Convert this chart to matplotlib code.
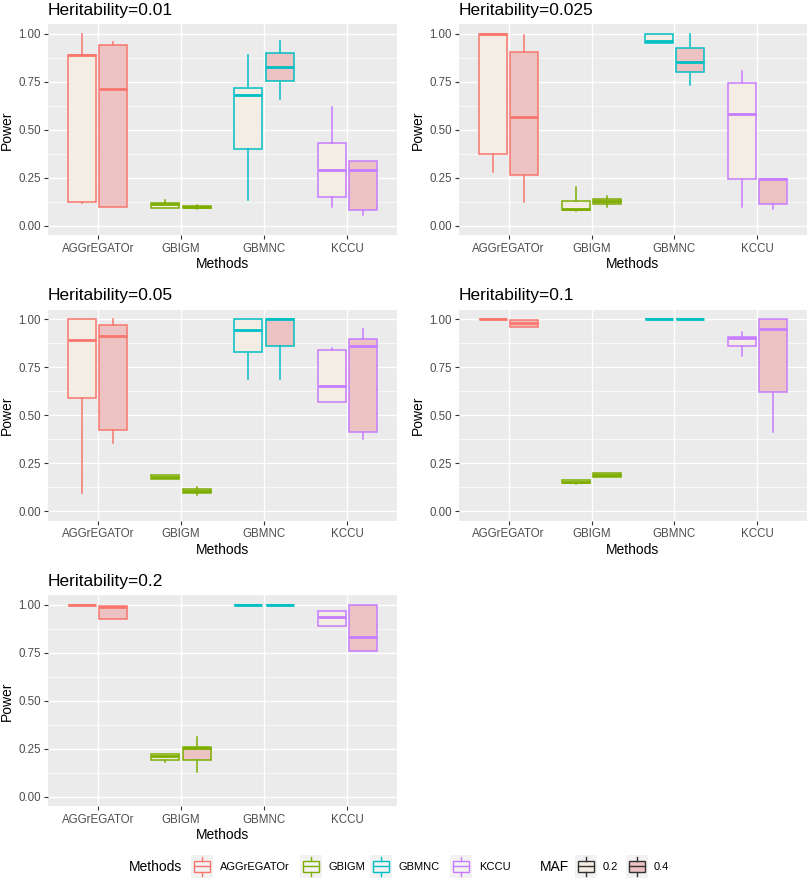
import matplotlib
matplotlib.use('Agg')
import matplotlib.pyplot as plt
from matplotlib.patches import Rectangle
from matplotlib.ticker import MultipleLocator

plt.rcParams['font.family'] = ['Liberation Sans', 'DejaVu Sans']

# --- Data ---
heritability = ['0.01', '0.025', '0.05', '0.1', '0.2']
methods = ['AGGrEGATOr', 'GBIGM', 'GBMNC', 'KCCU']
maf_levels = ['0.2', '0.4']

# each row: one panel, order = method x MAF (AGG 0.2, AGG 0.4, GBIGM 0.2, ...)
whisker_low = [
    [0.120, 0.096, 0.090, 0.088, 0.134, 0.660, 0.096, 0.056],
    [0.278, 0.125, 0.075, 0.096, 0.951, 0.734, 0.096, 0.085],
    [0.092, 0.353, 0.165, 0.085, 0.687, 0.687, 0.571, 0.376],
    [1.000, 0.962, 0.141, 0.176, 1.000, 1.000, 0.810, 0.414],
    [1.000, 0.927, 0.183, 0.130, 1.000, 1.000, 0.890, 0.760],
]
q1 = [
    [0.122, 0.099, 0.091, 0.090, 0.400, 0.755, 0.151, 0.082],
    [0.372, 0.264, 0.082, 0.113, 0.951, 0.803, 0.243, 0.113],
    [0.588, 0.421, 0.165, 0.092, 0.830, 0.861, 0.571, 0.412],
    [1.000, 0.962, 0.148, 0.176, 1.000, 1.000, 0.859, 0.621],
    [1.000, 0.927, 0.190, 0.190, 1.000, 1.000, 0.890, 0.760],
]
median = [
    [0.890, 0.713, 0.115, 0.095, 0.680, 0.826, 0.292, 0.292],
    [1.000, 0.569, 0.085, 0.129, 0.965, 0.856, 0.583, 0.245],
    [0.892, 0.913, 0.176, 0.103, 0.944, 1.000, 0.652, 0.863],
    [1.000, 0.983, 0.153, 0.188, 1.000, 1.000, 0.903, 0.951],
    [1.000, 0.990, 0.212, 0.252, 1.000, 1.000, 0.939, 0.833],
]
q3 = [
    [0.890, 0.943, 0.117, 0.105, 0.720, 0.900, 0.433, 0.339],
    [1.000, 0.908, 0.130, 0.141, 1.000, 0.929, 0.743, 0.245],
    [1.000, 0.972, 0.186, 0.113, 1.000, 1.000, 0.838, 0.899],
    [1.000, 0.998, 0.160, 0.200, 1.000, 1.000, 0.908, 1.000],
    [1.000, 0.997, 0.221, 0.261, 1.000, 1.000, 0.967, 1.000],
]
whisker_high = [
    [1.000, 0.960, 0.134, 0.110, 0.890, 0.963, 0.620, 0.339],
    [1.000, 0.995, 0.203, 0.155, 1.000, 1.000, 0.807, 0.245],
    [1.000, 1.000, 0.186, 0.123, 1.000, 1.000, 0.849, 0.951],
    [1.000, 0.998, 0.160, 0.200, 1.000, 1.000, 0.932, 1.000],
    [1.000, 0.997, 0.221, 0.310, 1.000, 1.000, 0.967, 1.000],
]

# --- Styles ---
method_colors = ['#F8766D', '#7CAE00', '#00BFC4', '#C77CFF']
maf_fills = ['#F4EDE3', '#EDC2C2']
W, H = 809, 880

# panel boxes in pixels: (left, right, top, bottom)
panel_px = [
    (48, 397, 24.4, 235.3),
    (459, 807, 24.4, 235.3),
    (48, 397, 309.7, 520.6),
    (459, 807, 309.7, 520.6),
    (48, 397, 595.4, 806.3),
]

fig = plt.figure(figsize=(W / 100, H / 100), dpi=100)

dodge = 0.1875
box_w = 0.3375

for p, title in enumerate(heritability):
    l, r, t, b = panel_px[p]
    ax = fig.add_axes([l / W, 1 - b / H, (r - l) / W, (b - t) / H])
    ax.set_facecolor('#EBEBEB')
    for s in ax.spines.values():
        s.set_visible(False)
    ax.set_axisbelow(True)

    stats = []
    positions = []
    for m in range(len(methods)):
        for k in range(len(maf_levels)):
            i = m * 2 + k
            stats.append(dict(med=median[p][i], q1=q1[p][i], q3=q3[p][i],
                              whislo=whisker_low[p][i], whishi=whisker_high[p][i],
                              fliers=[]))
            positions.append(m + 1 + (k - 0.5) * 2 * dodge)

    bp = ax.bxp(stats, positions=positions, widths=box_w, patch_artist=True,
                showcaps=False, showfliers=False, manage_ticks=False)
    for i, box in enumerate(bp['boxes']):
        c = method_colors[i // 2]
        box.set_facecolor(maf_fills[i % 2])
        box.set_edgecolor(c)
        box.set_linewidth(1.1)
        bp['medians'][i].set_color(c)
        bp['medians'][i].set_linewidth(2.0)
        bp['medians'][i].set_solid_capstyle('butt')
        for wl in bp['whiskers'][2 * i:2 * i + 2]:
            wl.set_color(c)
            wl.set_linewidth(1.1)

    ax.set_xlim(0.4, 4.6)
    ax.set_ylim(-0.05, 1.05)
    ax.set_xticks(range(1, len(methods) + 1))
    ax.set_xticklabels(methods)
    ax.yaxis.set_major_locator(MultipleLocator(0.25))
    ax.yaxis.set_minor_locator(MultipleLocator(0.125))
    ax.yaxis.set_major_formatter(matplotlib.ticker.FormatStrFormatter('%.2f'))
    ax.grid(True, which='major', color='white', linewidth=1.0)
    ax.grid(True, which='minor', axis='y', color='white', linewidth=0.5)
    ax.tick_params(axis='both', which='major', length=2.75, width=0.8,
                   color='#333333', labelcolor='#4D4D4D', labelsize=8.3, pad=2.5)
    ax.tick_params(axis='y', which='minor', length=0)
    ax.set_xlabel('Methods', fontsize=10, labelpad=2)
    ax.set_ylabel('Power', fontsize=10, labelpad=3)
    ax.set_title('Heritability=' + title, loc='left', fontsize=12.5, pad=7)

# --- Legend drawn in pixel space at the bottom ---
lax = fig.add_axes([0, 0, 1, 1], facecolor='none')
lax.set_xlim(0, W)
lax.set_ylim(H, 0)
lax.axis('off')


def draw_key(x0, edge, fill):
    kw, kh, y0 = 22, 23, 855
    lax.add_patch(Rectangle((x0, y0), kw, kh, facecolor='#F2F2F2', edgecolor='none'))
    cx = x0 + kw / 2
    lax.plot([cx, cx], [y0 + 0.1 * kh, y0 + 0.25 * kh], color=edge, lw=1.0)
    lax.plot([cx, cx], [y0 + 0.75 * kh, y0 + 0.9 * kh], color=edge, lw=1.0)
    lax.add_patch(Rectangle((x0 + 0.125 * kw, y0 + 0.25 * kh), 0.75 * kw, 0.5 * kh,
                            facecolor=fill, edgecolor=edge, lw=1.0))
    lax.plot([x0 + 0.125 * kw, x0 + 0.875 * kw], [y0 + 0.5 * kh] * 2, color=edge, lw=1.0)


ly = 867
lax.text(129, ly, 'Methods', fontsize=10, va='center', ha='left')
method_key_x = [191, 300, 370, 450]
for m, name in enumerate(methods):
    draw_key(method_key_x[m], method_colors[m], 'none')
    lax.text(method_key_x[m] + 29, ly, name, fontsize=8, va='center', ha='left')

lax.text(540, ly, 'MAF', fontsize=10, va='center', ha='left')
maf_key_x = [575, 626]
for k, lev in enumerate(maf_levels):
    draw_key(maf_key_x[k], '#333333', maf_fills[k])
    lax.text(maf_key_x[k] + 28, ly, lev, fontsize=8, va='center', ha='left')

fig.savefig('out.png', dpi=100)
